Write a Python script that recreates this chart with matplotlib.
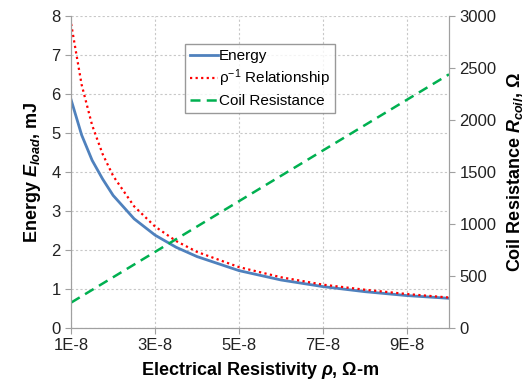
import numpy as np
import matplotlib
matplotlib.use("Agg")
import matplotlib.pyplot as plt

plt.rcParams['font.family'] = ['Liberation Sans', 'DejaVu Sans']
plt.rcParams['mathtext.fontset'] = 'custom'
plt.rcParams['mathtext.rm'] = 'Liberation Sans'
plt.rcParams['mathtext.it'] = 'Liberation Sans:italic:bold'
plt.rcParams['mathtext.bf'] = 'Liberation Sans:bold'

# resistivity in units of 1E-8 ohm-m
rho = [1, 1.25, 1.5, 1.75, 2, 2.5, 3, 3.5, 4, 5, 6, 7, 8, 9, 10]
energy = [5.85, 4.95, 4.3, 3.82, 3.4, 2.8, 2.38, 2.07, 1.83, 1.47, 1.23, 1.06, 0.93, 0.83, 0.76]
rho_inv = [7.8, 6.24, 5.2, 4.46, 3.9, 3.12, 2.6, 2.23, 1.95, 1.56, 1.3, 1.11, 0.98, 0.87, 0.78]
coil_res = [244, 305, 366, 427, 488, 610, 732, 854, 976, 1220, 1464, 1708, 1952, 2196, 2440]
xticks = [1, 3, 5, 7, 9]
xtick_labels = ["1E-8", "3E-8", "5E-8", "7E-8", "9E-8"]

fig = plt.figure(figsize=(5.27, 3.84), dpi=100)
ax = fig.add_axes([0.135, 0.146, 0.717, 0.812])
ax2 = ax.twinx()

x = np.array(rho)
l1, = ax.plot(x, energy, color='#4f81bd', lw=2, label='Energy')
l2, = ax.plot(x, rho_inv, color='#ff0000', lw=1.6, ls=(0, (1, 1.5)), label=r'ρ$^{\mathrm{-1}}$ Relationship')
l3, = ax2.plot(x, coil_res, color='#00b050', lw=1.8, ls=(0, (4, 2.5)), label='Coil Resistance')

ax.set_xlim(1, 10)
ax.set_ylim(0, 8)
ax2.set_ylim(0, 3000)
ax.set_xticks(xticks)
ax.set_xticklabels(xtick_labels)
ax.set_yticks(range(0, 9))
ax2.set_yticks(range(0, 3001, 500))

ax.grid(True, color='#c8c8c8', ls=(0, (2, 2)), lw=0.8)
for a in (ax, ax2):
    a.spines['top'].set_visible(False)
    for s in ('left', 'right', 'bottom'):
        a.spines[s].set_color('#a0a0a0')
    a.tick_params(colors='#a0a0a0', labelcolor='#222222', labelsize=12, length=4)

ax.set_xlabel(r'Electrical Resistivity $\rho$, Ω-m', fontsize=13, fontweight='bold', labelpad=5)
ax.set_ylabel(r'Energy $E_{load}$, mJ', fontsize=13, fontweight='bold', labelpad=6)
ax2.set_ylabel(r'Coil Resistance $R_{coil}$, Ω', fontsize=13, fontweight='bold', labelpad=6)

leg = ax.legend(handles=[l1, l2, l3], loc='upper left', bbox_to_anchor=(0.336, 0.906),
                bbox_transform=fig.transFigure, fontsize=11, fancybox=False,
                handlelength=1.8, handletextpad=0.1, borderpad=0.35, labelspacing=0.3)
leg.get_frame().set_edgecolor('#808080')
leg.get_frame().set_linewidth(1)

fig.savefig('out.png', dpi=100)
